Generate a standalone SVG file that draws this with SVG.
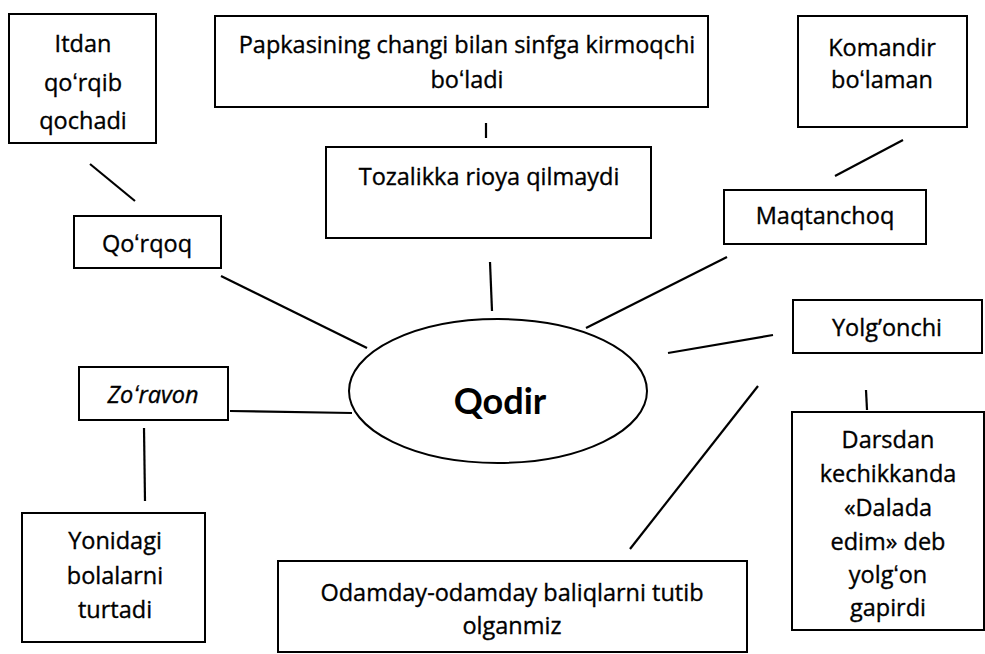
<svg xmlns="http://www.w3.org/2000/svg" width="985" height="654" viewBox="0 0 985 654">
<style>
.box{fill:#fff;stroke:#000;stroke-width:2}
.t{font-family:"Open Sans","Liberation Sans",sans-serif;font-size:23.5px;fill:#000;stroke:#000;stroke-width:0.35;text-anchor:middle}
.c line{stroke:#000;stroke-width:2.2}
</style>
<rect width="985" height="654" fill="#fff"/>
<g class="c" id="connectors">
<line x1="90" y1="164" x2="135" y2="201"/>
<line x1="221" y1="276" x2="367" y2="348"/>
<line x1="486" y1="123" x2="486" y2="138"/>
<line x1="490" y1="262" x2="492" y2="311"/>
<line x1="835" y1="176" x2="903" y2="140"/>
<line x1="727" y1="257" x2="586" y2="328"/>
<line x1="668" y1="353" x2="773" y2="335"/>
<line x1="758" y1="386" x2="630" y2="549"/>
<line x1="866" y1="390" x2="867" y2="410"/>
<line x1="230" y1="411" x2="352" y2="413"/>
<line x1="144" y1="428" x2="145" y2="501"/>
</g>
<g id="itdan">
<rect class="box" x="9" y="14" width="147" height="129"/>
<text class="t" x="83" y="52">Itdan</text>
<text class="t" x="83" y="91">qoʻrqib</text>
<text class="t" x="83" y="129">qochadi</text>
</g>
<g id="qorqoq">
<rect class="box" x="74" y="216" width="147" height="52"/>
<text class="t" x="147" y="252">Qoʻrqoq</text>
</g>
<g id="papkasining">
<rect class="box" x="215" y="16" width="493" height="91"/>
<text class="t" x="467" y="53">Papkasining changi bilan sinfga kirmoqchi</text>
<text class="t" x="467" y="88">boʻladi</text>
</g>
<g id="tozalikka">
<rect class="box" x="326" y="147" width="325" height="91"/>
<text class="t" x="489" y="185">Tozalikka rioya qilmaydi</text>
</g>
<g id="komandir">
<rect class="box" x="798" y="16" width="169" height="111"/>
<text class="t" x="882" y="56">Komandir</text>
<text class="t" x="882" y="88">boʻlaman</text>
</g>
<g id="maqtanchoq">
<rect class="box" x="724" y="190" width="202" height="54"/>
<text class="t" x="825" y="224">Maqtanchoq</text>
</g>
<g id="qodir">
<ellipse class="box" cx="498" cy="391" rx="149" ry="72"/>
<text class="t" x="500" y="414" style="font-family:Lato,'Open Sans',sans-serif;font-size:36px;font-weight:bold;stroke-width:0">Qodir</text>
</g>
<g id="yolgonchi">
<rect class="box" x="793" y="300" width="189" height="53"/>
<text class="t" x="887" y="336">Yolg’onchi</text>
</g>
<g id="darsdan">
<rect class="box" x="792" y="412" width="192" height="218"/>
<text class="t" x="888" y="448">Darsdan</text>
<text class="t" x="888" y="482">kechikkanda</text>
<text class="t" x="888" y="516">«Dalada</text>
<text class="t" x="888" y="550">edim» deb</text>
<text class="t" x="888" y="583">yolgʻon</text>
<text class="t" x="888" y="616">gapirdi</text>
</g>
<g id="zoravon">
<rect class="box" x="79" y="367" width="149" height="53"/>
<text class="t" x="153" y="403" style="font-style:italic">Zoʻravon</text>
</g>
<g id="yonidagi">
<rect class="box" x="22" y="513" width="183" height="129"/>
<text class="t" x="115" y="549">Yonidagi</text>
<text class="t" x="115" y="584">bolalarni</text>
<text class="t" x="115" y="618">turtadi</text>
</g>
<g id="odamday">
<rect class="box" x="278" y="561" width="469" height="91"/>
<text class="t" x="512" y="601">Odamday-odamday baliqlarni tutib</text>
<text class="t" x="512" y="634">olganmiz</text>
</g>
</svg>
